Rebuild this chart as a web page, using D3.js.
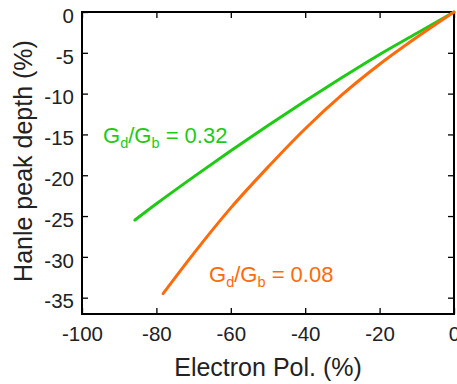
<!DOCTYPE html>
<html>
<head>
<meta charset="utf-8">
<script src="https://cdn.jsdelivr.net/npm/d3@7"></script>
<style>
  html, body { margin: 0; padding: 0; background: #fff; }
  svg { display: block; font-family: "Liberation Sans", Arial, sans-serif; }
</style>
</head>
<body>
<svg id="chart" width="457" height="384"></svg>
<script>
// ---- data ----
const greenX = [-85.8, -80, -70, -60, -50, -40, -30, -20, -10, 0];
const greenY = [-25.5, -23.5, -20.2, -17.0, -13.9, -10.9, -8.0, -5.2, -2.6, 0];
const orangeX = [-78.2, -70, -60, -50, -40, -30, -20, -10, 0];
const orangeY = [-34.5, -29.6, -24.0, -19.0, -14.3, -10.1, -6.4, -3.1, 0];
const xTicks = [-100, -80, -60, -40, -20, 0];
const yTicks = [0, -5, -10, -15, -20, -25, -30, -35];
const xTitle = "Electron Pol. (%)";
const yTitle = "Hanle peak depth (%)";
const labelGreen = {main1: "G", sub1: "d", mid: "/G", sub2: "b", tail: " = 0.32"};
const labelOrange = {main1: "G", sub1: "d", mid: "/G", sub2: "b", tail: " = 0.08"};

const greenColor = "#1ecb14";
const orangeColor = "#ff6a0a";
const textColor = "#222";

const svg = d3.select("#chart");
const L = 82, R = 454, T = 12, B = 314;

const x = d3.scaleLinear().domain([-100, 0]).range([L, R]);
const y = d3.scaleLinear().domain([-37, 0]).range([B, T]);

const fmt = d => String(d);

// axes with inward ticks
const tickLen = 6;
const gB = svg.append("g").attr("transform", `translate(0,${B})`)
  .call(d3.axisBottom(x).tickValues(xTicks).tickSizeInner(-tickLen).tickSizeOuter(0).tickPadding(12).tickFormat(fmt));
const gT = svg.append("g").attr("transform", `translate(0,${T})`)
  .call(d3.axisTop(x).tickValues(xTicks).tickSizeInner(-tickLen).tickSizeOuter(0).tickFormat(""));
const gL = svg.append("g").attr("transform", `translate(${L},0)`)
  .call(d3.axisLeft(y).tickValues(yTicks).tickSizeInner(-tickLen).tickSizeOuter(0).tickPadding(8).tickFormat(fmt));
const gR = svg.append("g").attr("transform", `translate(${R},0)`)
  .call(d3.axisRight(y).tickValues(yTicks).tickSizeInner(-tickLen).tickSizeOuter(0).tickFormat(""));

[gB, gT, gL, gR].forEach(g => {
  g.select(".domain").remove();
  g.selectAll(".tick line").attr("stroke", "#000").attr("stroke-width", 1.3);
  g.selectAll(".tick text").attr("fill", textColor).style("font-size", "20.5px")
    .style("font-family", '"Liberation Sans", Arial, sans-serif');
});
gL.selectAll(".tick text").attr("dy", "0.5em");

// frame
svg.append("rect").attr("x", L).attr("y", T).attr("width", R - L).attr("height", B - T)
  .attr("fill", "none").attr("stroke", "#000").attr("stroke-width", 2);

// lines
const line = d3.line().x(d => x(d[0])).y(d => y(d[1])).curve(d3.curveMonotoneX);
const gData = greenX.map((v, i) => [v, greenY[i]]);
const oData = orangeX.map((v, i) => [v, orangeY[i]]);
svg.append("path").datum(gData).attr("d", line).attr("fill", "none")
  .attr("stroke", greenColor).attr("stroke-width", 3).attr("stroke-linecap", "round");
svg.append("path").datum(oData).attr("d", line).attr("fill", "none")
  .attr("stroke", orangeColor).attr("stroke-width", 3).attr("stroke-linecap", "round");

// annotations
function annot(lbl, px, py, color) {
  const t = svg.append("text").attr("x", px).attr("y", py).attr("fill", color)
    .style("font-size", "22px");
  t.append("tspan").text(lbl.main1);
  t.append("tspan").text(lbl.sub1).attr("dy", 5).style("font-size", "14.5px");
  t.append("tspan").text(lbl.mid).attr("dy", -5);
  t.append("tspan").text(lbl.sub2).attr("dy", 5).style("font-size", "14.5px");
  t.append("tspan").text(lbl.tail).attr("dy", -5);
}
annot(labelGreen, 103, 143, greenColor);
annot(labelOrange, 209, 282, orangeColor);

// titles
svg.append("text").attr("x", (L + R) / 2).attr("y", 376).attr("text-anchor", "middle")
  .attr("fill", textColor).style("font-size", "25px").text(xTitle);
svg.append("text").attr("transform", `translate(32,161) rotate(-90)`)
  .attr("text-anchor", "middle").attr("fill", textColor).style("font-size", "25px").text(yTitle);
</script>
</body>
</html>
